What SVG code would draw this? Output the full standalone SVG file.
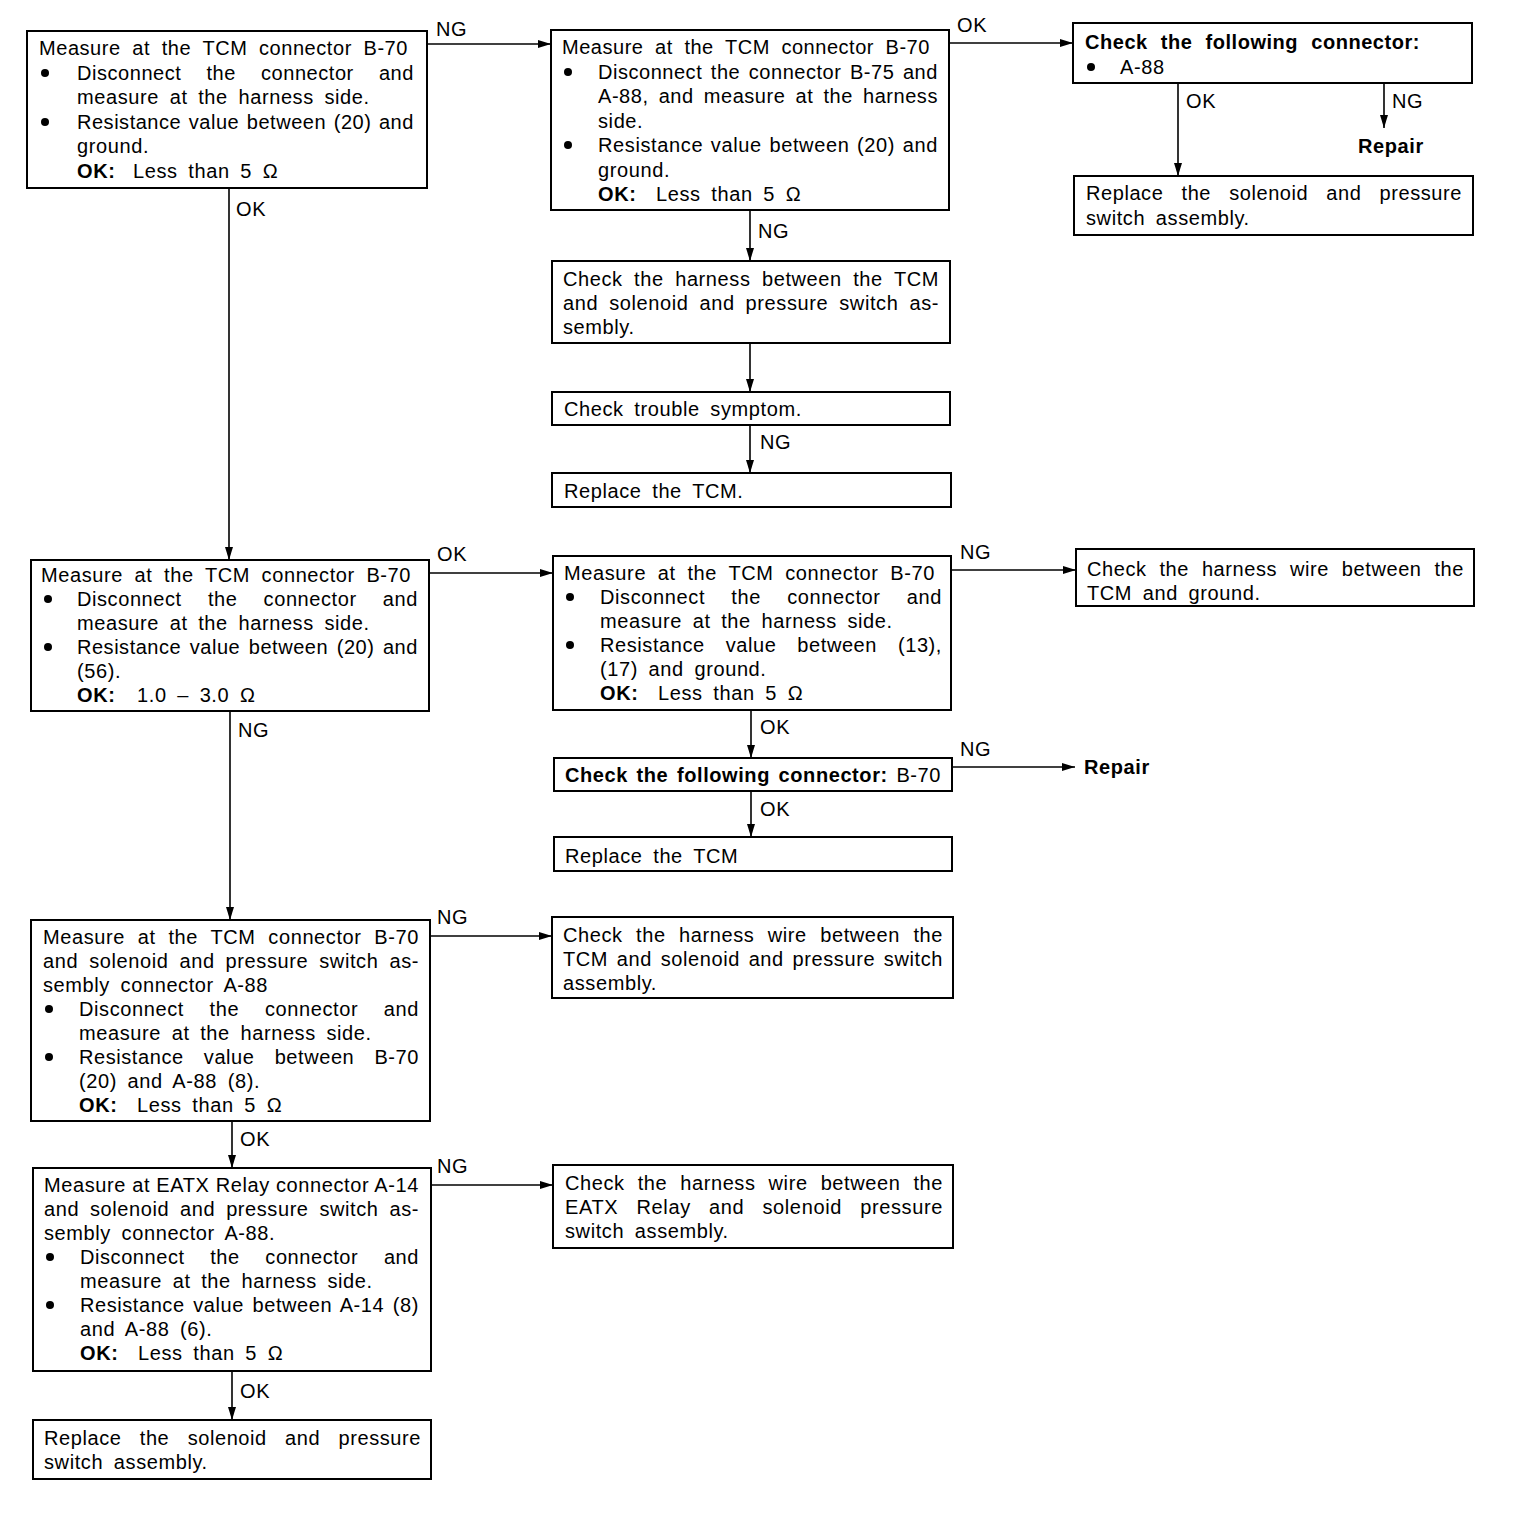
<svg xmlns="http://www.w3.org/2000/svg" width="1520" height="1534" viewBox="0 0 1520 1534">
<defs>
<style>
text{font-family:"Liberation Sans",Arial,sans-serif;font-size:20px;fill:#000;letter-spacing:0.6px;word-spacing:4.5px}
.b{font-weight:bold}
rect.box{fill:#fff;stroke:#000;stroke-width:2}
.conn line{stroke:#000;stroke-width:1.6;fill:none}
circle.bul{fill:#000}
</style>
<marker id="ah" markerUnits="userSpaceOnUse" markerWidth="14" markerHeight="10" refX="13" refY="4" orient="auto">
<path d="M0,0 L13,4 L0,8 Z" fill="#000"/>
</marker>
</defs>
<rect width="1520" height="1534" fill="#fff"/>

<g class="conn">
<line x1="427" y1="44" x2="551" y2="44" marker-end="url(#ah)"/>
<line x1="949" y1="43" x2="1073" y2="43" marker-end="url(#ah)"/>
<line x1="1178" y1="83" x2="1178" y2="176" marker-end="url(#ah)"/>
<line x1="1384" y1="83" x2="1384" y2="128" marker-end="url(#ah)"/>
<line x1="750" y1="210" x2="750" y2="261" marker-end="url(#ah)"/>
<line x1="750" y1="343" x2="750" y2="392" marker-end="url(#ah)"/>
<line x1="750" y1="425" x2="750" y2="473" marker-end="url(#ah)"/>
<line x1="229" y1="188" x2="229" y2="560" marker-end="url(#ah)"/>
<line x1="429" y1="573" x2="553" y2="573" marker-end="url(#ah)"/>
<line x1="951" y1="570" x2="1076" y2="570" marker-end="url(#ah)"/>
<line x1="751" y1="710" x2="751" y2="758" marker-end="url(#ah)"/>
<line x1="952" y1="767" x2="1075" y2="767" marker-end="url(#ah)"/>
<line x1="751" y1="791" x2="751" y2="837" marker-end="url(#ah)"/>
<line x1="230" y1="711" x2="230" y2="920" marker-end="url(#ah)"/>
<line x1="430" y1="936" x2="552" y2="936" marker-end="url(#ah)"/>
<line x1="232" y1="1121" x2="232" y2="1168" marker-end="url(#ah)"/>
<line x1="431" y1="1185" x2="553" y2="1185" marker-end="url(#ah)"/>
<line x1="232" y1="1371" x2="232" y2="1420" marker-end="url(#ah)"/>
<text x="436" y="36">NG</text>
<text x="957" y="32">OK</text>
<text x="1186" y="108">OK</text>
<text x="1392" y="108">NG</text>
<text x="1358" y="153" class="b">Repair</text>
<text x="758" y="238">NG</text>
<text x="760" y="449">NG</text>
<text x="236" y="216">OK</text>
<text x="437" y="561">OK</text>
<text x="960" y="559">NG</text>
<text x="760" y="734">OK</text>
<text x="960" y="756">NG</text>
<text x="1084" y="774" class="b">Repair</text>
<text x="760" y="816">OK</text>
<text x="238" y="737">NG</text>
<text x="437" y="924">NG</text>
<text x="240" y="1146">OK</text>
<text x="437" y="1173">NG</text>
<text x="240" y="1398">OK</text>
</g>

<g id="n1">
<rect class="box" x="27" y="31" width="400" height="157"/>
<text x="39" y="55" textLength="369" lengthAdjust="spacing" style="word-spacing:5.5px">Measure at the TCM connector B-70</text>
<circle class="bul" cx="45" cy="73" r="4"/>
<text x="77" y="80" textLength="337" lengthAdjust="spacing" style="word-spacing:19px">Disconnect the connector and</text>
<text x="77" y="104">measure at the harness side.</text>
<circle class="bul" cx="45" cy="122" r="4"/>
<text x="77" y="129" textLength="337" lengthAdjust="spacing" style="word-spacing:1.5px">Resistance value between (20) and</text>
<text x="77" y="153">ground.</text>
<text y="178"><tspan x="77" class="b">OK:</tspan><tspan x="133">Less than 5 Ω</tspan></text>
</g>

<g id="n2">
<rect class="box" x="551" y="30" width="398" height="180"/>
<text x="562" y="54" textLength="368" lengthAdjust="spacing" style="word-spacing:5.5px">Measure at the TCM connector B-70</text>
<circle class="bul" cx="568" cy="72" r="4"/>
<text x="598" y="79" textLength="340" lengthAdjust="spacing" style="word-spacing:2.5px">Disconnect the connector B-75 and</text>
<text x="598" y="103" textLength="340" lengthAdjust="spacing" style="word-spacing:4px">A-88, and measure at the harness</text>
<text x="598" y="128">side.</text>
<circle class="bul" cx="568" cy="145" r="4"/>
<text x="598" y="152" textLength="340" lengthAdjust="spacing" style="word-spacing:1.5px">Resistance value between (20) and</text>
<text x="598" y="177">ground.</text>
<text y="201"><tspan x="598" class="b">OK:</tspan><tspan x="656">Less than 5 Ω</tspan></text>
</g>

<g id="n3">
<rect class="box" x="1073" y="23" width="399" height="60"/>
<text x="1085" y="49" class="b" textLength="335" lengthAdjust="spacing" style="word-spacing:7px">Check the following connector:</text>
<circle class="bul" cx="1091" cy="67" r="4"/>
<text x="1120" y="74">A-88</text>
</g>

<g id="n4">
<rect class="box" x="1074" y="176" width="399" height="59"/>
<text x="1086" y="200" textLength="376" lengthAdjust="spacing" style="word-spacing:12px">Replace the solenoid and pressure</text>
<text x="1086" y="225">switch assembly.</text>
</g>

<g id="n5">
<rect class="box" x="552" y="261" width="398" height="82"/>
<text x="563" y="286" textLength="376" lengthAdjust="spacing" style="word-spacing:5.3px">Check the harness between the TCM</text>
<text x="563" y="310" textLength="376" lengthAdjust="spacing" style="word-spacing:4.8px">and solenoid and pressure switch as-</text>
<text x="563" y="334">sembly.</text>
</g>

<g id="n6">
<rect class="box" x="552" y="392" width="398" height="33"/>
<text x="564" y="416">Check trouble symptom.</text>
</g>

<g id="n7">
<rect class="box" x="552" y="473" width="399" height="34"/>
<text x="564" y="498">Replace the TCM.</text>
</g>

<g id="n8">
<rect class="box" x="31" y="560" width="398" height="151"/>
<text x="41" y="582" textLength="370" lengthAdjust="spacing" style="word-spacing:5.5px">Measure at the TCM connector B-70</text>
<circle class="bul" cx="48" cy="599" r="4"/>
<text x="77" y="606" textLength="341" lengthAdjust="spacing" style="word-spacing:20px">Disconnect the connector and</text>
<text x="77" y="630">measure at the harness side.</text>
<circle class="bul" cx="48" cy="647" r="4"/>
<text x="77" y="654" textLength="341" lengthAdjust="spacing" style="word-spacing:2.5px">Resistance value between (20) and</text>
<text x="77" y="678">(56).</text>
<text y="702"><tspan x="77" class="b">OK:</tspan><tspan x="137">1.0 – 3.0 Ω</tspan></text>
</g>

<g id="n9">
<rect class="box" x="553" y="556" width="398" height="154"/>
<text x="564" y="580" textLength="371" lengthAdjust="spacing" style="word-spacing:5.5px">Measure at the TCM connector B-70</text>
<circle class="bul" cx="570" cy="597" r="4"/>
<text x="600" y="604" textLength="342" lengthAdjust="spacing" style="word-spacing:20px">Disconnect the connector and</text>
<text x="600" y="628">measure at the harness side.</text>
<circle class="bul" cx="570" cy="645" r="4"/>
<text x="600" y="652" textLength="342" lengthAdjust="spacing" style="word-spacing:14.8px">Resistance value between (13),</text>
<text x="600" y="676">(17) and ground.</text>
<text y="700"><tspan x="600" class="b">OK:</tspan><tspan x="658">Less than 5 Ω</tspan></text>
</g>

<g id="n10">
<rect class="box" x="1076" y="549" width="398" height="57"/>
<text x="1087" y="576" textLength="377" lengthAdjust="spacing" style="word-spacing:6.7px">Check the harness wire between the</text>
<text x="1087" y="600">TCM and ground.</text>
</g>

<g id="n11">
<rect class="box" x="554" y="758" width="398" height="33"/>
<text x="565" y="782" textLength="376" lengthAdjust="spacing" style="word-spacing:2.5px"><tspan class="b">Check the following connector:</tspan> B-70</text>
</g>

<g id="n12">
<rect class="box" x="554" y="837" width="398" height="34"/>
<text x="565" y="863">Replace the TCM</text>
</g>

<g id="n13">
<rect class="box" x="31" y="920" width="399" height="201"/>
<text x="43" y="944" textLength="376" lengthAdjust="spacing" style="word-spacing:6.6px">Measure at the TCM connector B-70</text>
<text x="43" y="968" textLength="376" lengthAdjust="spacing" style="word-spacing:4.8px">and solenoid and pressure switch as-</text>
<text x="43" y="992">sembly connector A-88</text>
<circle class="bul" cx="49" cy="1009" r="4"/>
<text x="79" y="1016" textLength="340" lengthAdjust="spacing" style="word-spacing:19.5px">Disconnect the connector and</text>
<text x="79" y="1040">measure at the harness side.</text>
<circle class="bul" cx="49" cy="1057" r="4"/>
<text x="79" y="1064" textLength="340" lengthAdjust="spacing" style="word-spacing:14px">Resistance value between B-70</text>
<text x="79" y="1088">(20) and A-88 (8).</text>
<text y="1112"><tspan x="79" class="b">OK:</tspan><tspan x="137">Less than 5 Ω</tspan></text>
</g>

<g id="n14">
<rect class="box" x="552" y="917" width="401" height="81"/>
<text x="563" y="942" textLength="380" lengthAdjust="spacing" style="word-spacing:7.3px">Check the harness wire between the</text>
<text x="563" y="966" textLength="380" lengthAdjust="spacing" style="word-spacing:2.5px">TCM and solenoid and pressure switch</text>
<text x="563" y="990">assembly.</text>
</g>

<g id="n15">
<rect class="box" x="33" y="1168" width="398" height="203"/>
<text x="44" y="1192" textLength="375" lengthAdjust="spacing" style="word-spacing:0px">Measure at EATX Relay connector A-14</text>
<text x="44" y="1216" textLength="375" lengthAdjust="spacing" style="word-spacing:4.8px">and solenoid and pressure switch as-</text>
<text x="44" y="1240">sembly connector A-88.</text>
<circle class="bul" cx="50" cy="1257" r="4"/>
<text x="80" y="1264" textLength="339" lengthAdjust="spacing" style="word-spacing:19.5px">Disconnect the connector and</text>
<text x="80" y="1288">measure at the harness side.</text>
<circle class="bul" cx="50" cy="1305" r="4"/>
<text x="80" y="1312" textLength="339" lengthAdjust="spacing" style="word-spacing:2.5px">Resistance value between A-14 (8)</text>
<text x="80" y="1336">and A-88 (6).</text>
<text y="1360"><tspan x="80" class="b">OK:</tspan><tspan x="138">Less than 5 Ω</tspan></text>
</g>

<g id="n16">
<rect class="box" x="553" y="1165" width="400" height="83"/>
<text x="565" y="1190" textLength="378" lengthAdjust="spacing" style="word-spacing:6.9px">Check the harness wire between the</text>
<text x="565" y="1214" textLength="378" lengthAdjust="spacing" style="word-spacing:12px">EATX Relay and solenoid pressure</text>
<text x="565" y="1238">switch assembly.</text>
</g>

<g id="n17">
<rect class="box" x="33" y="1420" width="398" height="59"/>
<text x="44" y="1445" textLength="377" lengthAdjust="spacing" style="word-spacing:12.2px">Replace the solenoid and pressure</text>
<text x="44" y="1469">switch assembly.</text>
</g>
</svg>
